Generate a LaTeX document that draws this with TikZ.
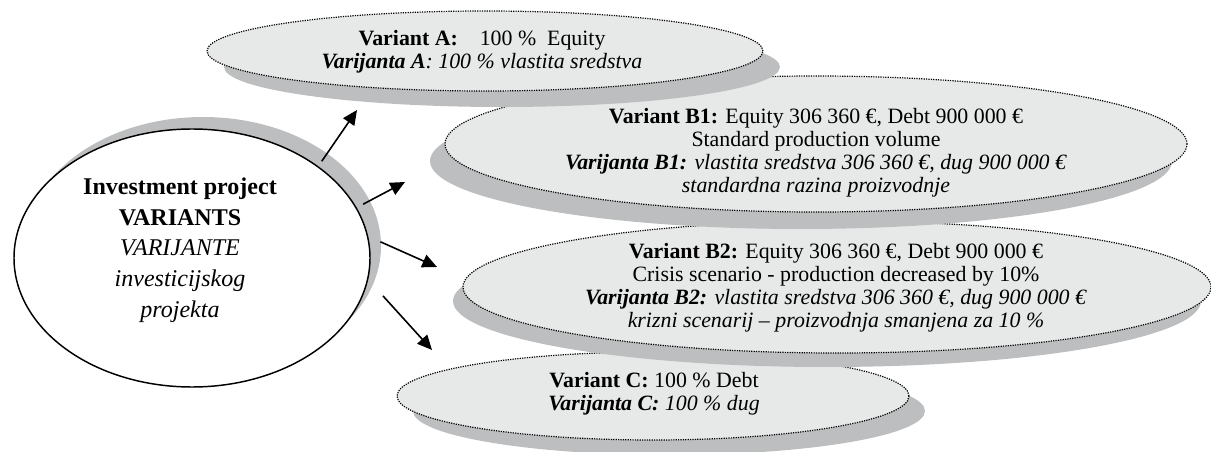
\documentclass[tikz,border=0pt]{standalone}
\usepackage{fontspec}
\setmainfont{Liberation Serif}
\usetikzlibrary{shapes.geometric,shadows,arrows.meta}
\definecolor{ovalfill}{RGB}{231,232,232}
\definecolor{ovalshadow}{RGB}{189,190,191}

\begin{document}
\begin{tikzpicture}[x=0.75pt, y=-0.75pt,
  variant/.style={ellipse, draw=black, line width=0.9pt, dash pattern=on 0.9pt off 0.9pt, fill=ovalfill, inner sep=0pt},
  varianttext/.style={align=center, inner sep=0pt, font=\fontsize{16.4}{17.3}\selectfont},
  hub/.style={ellipse, draw=black, line width=1.1pt, fill=white, inner sep=0pt},
  hubtext/.style={align=center, inner sep=0pt, font=\fontsize{18}{23}\selectfont},
  arrow/.style={-{Triangle[length=11pt,width=10pt]}, line width=1.2pt}
]
  \useasboundingbox (0,0) rectangle (1211,452);

  % variants, back to front
  \node[variant, minimum width=384pt, minimum height=66pt,
        drop shadow={shadow xshift=12pt, shadow yshift=-11.25pt, fill=ovalshadow, opacity=1}]
        (varC) at (653,396) {};
  \node[varianttext] (varCtext) at (654,394) {\textbf{Variant C:} 100 \% Debt\\\textbf{\textit{Varijanta C:}} \textit{100 \% dug}};

  \node[variant, minimum width=561pt, minimum height=99pt,
        drop shadow={shadow xshift=-7.5pt, shadow yshift=-10.5pt, fill=ovalshadow, opacity=1}]
        (varB2) at (837,287) {};
  \node[varianttext] (varB2text) at (836,288) {\textbf{Variant B2:} Equity 306 360 €, Debt 900 000 €\\Crisis scenario - production decreased by 10\%\\\textbf{\textit{Varijanta B2:}} \textit{vlastita sredstva 306 360 €, dug 900 000 €}\\\textit{krizni scenarij – proizvodnja smanjena za 10 \%}};

  \node[variant, minimum width=556.5pt, minimum height=102pt,
        drop shadow={shadow xshift=-11.25pt, shadow yshift=-12.75pt, fill=ovalshadow, opacity=1}]
        (varB1) at (816,144) {};
  \node[varianttext] (varB1text) at (816,153) {\textbf{Variant B1:} Equity 306 360 €, Debt 900 000 €\\Standard production volume\\\textbf{\textit{Varijanta B1:}} \textit{vlastita sredstva 306 360 €, dug 900 000 €}\\\textit{standardna razina proizvodnje}};

  \node[variant, minimum width=417pt, minimum height=60pt,
        drop shadow={shadow xshift=12.75pt, shadow yshift=-12pt, fill=ovalshadow, opacity=1}]
        (varA) at (485,51) {};
  \node[varianttext] (varAtext) at (482,52) {\textbf{Variant A:}\quad 100 \%\ \ Equity\\\textbf{\textit{Varijanta A}}\textit{: 100 \% vlastita sredstva}};

  % investment project
  \node[hub, minimum width=267pt, minimum height=193.5pt,
        drop shadow={shadow xshift=8.25pt, shadow yshift=9pt, fill=ovalshadow, opacity=1}]
        (hub) at (192,258) {};
  \node[hubtext] (hublabel) at (180,250) {\textbf{Investment project}\\\textbf{VARIANTS}\\\textit{VARIJANTE}\\\textit{investicijskog}\\\textit{projekta}};

  \coordinate (tipA)  at (357,110);
  \coordinate (tipB1) at (405,182);
  \coordinate (tipB2) at (437,267);
  \coordinate (tipC)  at (432,350);

  \draw[arrow, shorten <=4.5pt] (hub.36) -- (tipA);
  \draw[arrow, shorten <=5.5pt] (hub.17) -- (tipB1);
  \draw[arrow, shorten <=10pt] (hub.7) -- (tipB2);
  \draw[arrow, shorten <=16.5pt] (hub.-7.5) -- (tipC);
\end{tikzpicture}
\end{document}
